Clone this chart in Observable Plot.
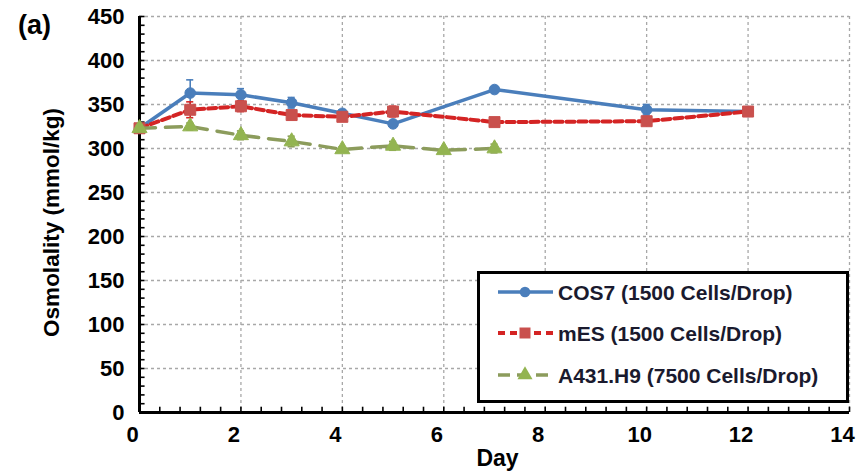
<!DOCTYPE html>
<html><head><meta charset="utf-8">
<script src="https://cdn.jsdelivr.net/npm/d3@7"></script>
<script src="https://cdn.jsdelivr.net/npm/@observablehq/plot@0.6"></script>
<style>
body{margin:0;background:#fff;font-family:"Liberation Sans",Arial,sans-serif;}
#wrap{position:relative;width:859px;height:475px;overflow:hidden;}
#legend{position:absolute;left:477px;top:271px;}
</style></head><body><div id="wrap"></div>
<script>
// ---- data ----
const days = [0, 1, 2, 3, 4, 5, 7, 10, 12];
const daysA431 = [0, 1, 2, 3, 4, 5, 6, 7];
const cos7 = [323, 363, 361, 352, 340, 328, 367, 344, 342];
const cos7Err = [0, 15, 7, 6, 4, 3, 3, 6, 3];
const mes = [323, 344, 348, 338, 336, 342, 330, 331, 342];
const mesErr = [0, 9, 6, 5, 4, 6, 3, 3, 4];
const a431 = [323, 325, 315, 308, 299, 303, 298, 300];
const a431Err = [3, 4, 5, 6, 3, 5, 2, 5];
const seriesNames = ["COS7 (1500 Cells/Drop)", "mES (1500 Cells/Drop)", "A431.H9 (7500 Cells/Drop)"];
const xTicks = [0, 2, 4, 6, 8, 10, 12, 14];
const yTicks = [0, 50, 100, 150, 200, 250, 300, 350, 400, 450];
const xMinor = d3.range(0, 14.01, 0.4);
const yMinor = d3.range(0, 450.1, 10);

// ---- styles ----
const styles = [
  {line: "#4a7ebb", marker: "#4a7ebb", dash: null, width: 3.5, symbol: "circle", r: 5.3},
  {line: "#d42424", marker: "#c9504d", dash: "8,4", width: 4, symbol: "square", r: 6.2},
  {line: "#8c9c5c", marker: "#93b451", dash: "16,10", width: 3.5, symbol: "triangle", r: 5.6}
];

const rows = [];
days.forEach((d, i) => rows.push({s: 0, day: d, value: cos7[i], err: cos7Err[i]}));
days.forEach((d, i) => rows.push({s: 1, day: d, value: mes[i], err: mesErr[i]}));
daysA431.forEach((d, i) => rows.push({s: 2, day: d, value: a431[i], err: a431Err[i]}));

const font = "'Liberation Sans', Arial, sans-serif";
const marks = [
  Plot.gridY(yTicks.filter(v => v > 0), {stroke: "#a8a8a8", strokeOpacity: 1, strokeDasharray: "3,3", strokeWidth: 1.3}),
  Plot.gridX(xTicks.filter(v => v > 0), {stroke: "#a8a8a8", strokeOpacity: 1, strokeDasharray: "3,3", strokeWidth: 1.3}),
  Plot.ruleY(yMinor, {x1: 0, x2: 0.11, stroke: "black", strokeWidth: 1.6}),
  Plot.ruleX(xMinor, {y1: 0, y2: 6, stroke: "black", strokeWidth: 1.6}),
  Plot.ruleX([0], {stroke: "black", strokeWidth: 3}),
  Plot.ruleY([0], {stroke: "black", strokeWidth: 3})
];
styles.forEach((st, k) => {
  const data = rows.filter(r => r.s === k);
  marks.push(
    Plot.ruleX(data.filter(r => r.err > 0), {x: "day", y1: r => r.value - r.err, y2: r => r.value + r.err, stroke: st.line, strokeWidth: 1.6}),
    Plot.ruleY(data.filter(r => r.err > 0), {y: r => r.value + r.err, x1: r => r.day - 0.07, x2: r => r.day + 0.07, stroke: st.line, strokeWidth: 1.6}),
    Plot.ruleY(data.filter(r => r.err > 0), {y: r => r.value - r.err, x1: r => r.day - 0.07, x2: r => r.day + 0.07, stroke: st.line, strokeWidth: 1.6}),
    Plot.line(data, {x: "day", y: "value", stroke: st.line, strokeWidth: st.width, strokeDasharray: st.dash}),
    Plot.dot(data, {x: "day", y: "value", symbol: st.symbol, r: st.r, fill: st.marker, stroke: st.marker, strokeWidth: 1})
  );
});
marks.push(
  Plot.axisX({ticks: xTicks, tickSize: 0, tickPadding: 14, dx: -7, label: null, fontSize: 22, fontWeight: "bold"}),
  Plot.axisY({ticks: yTicks, tickSize: 0, tickPadding: 15, label: null, fontSize: 22, fontWeight: "bold"}),
  Plot.text(["(a)"], {frameAnchor: "top-left", dx: -105, dy: 9, textAnchor: "middle", lineAnchor: "middle", fontSize: 27, fontWeight: "bold", fill: "black"}),
  Plot.text(["Osmolality (mmol/kg)"], {frameAnchor: "left", rotate: -90, dx: -88, dy: 8, textAnchor: "middle", lineAnchor: "middle", fontSize: 22.5, fontWeight: "bold", fill: "black"}),
  Plot.text(["Day"], {frameAnchor: "bottom", dx: 3, dy: 46, textAnchor: "middle", lineAnchor: "middle", fontSize: 23, fontWeight: "bold", fill: "black"})
);

const chart = Plot.plot({
  width: 859,
  height: 475,
  marginLeft: 139,
  marginRight: 10,
  marginTop: 16,
  marginBottom: 63,
  x: {domain: [0, 14]},
  y: {domain: [0, 450]},
  style: {fontFamily: font, fontSize: "22px", fontWeight: "bold", color: "black", background: "white"},
  marks
});
document.getElementById("wrap").appendChild(chart);

// ---- legend ----
const lg = d3.select("#wrap").append("svg").attr("id", "legend")
  .attr("width", 373).attr("height", 133);
lg.append("rect").attr("x", 1.5).attr("y", 1.5).attr("width", 369).attr("height", 129)
  .attr("fill", "white").attr("stroke", "black").attr("stroke-width", 3);
const rowY = [21, 62, 104];
seriesNames.forEach((name, k) => {
  const st = styles[k];
  const g = lg.append("g").attr("transform", `translate(0,${rowY[k]})`);
  g.append("line").attr("x1", 21).attr("x2", 76).attr("y1", 0).attr("y2", 0)
    .attr("stroke", st.line).attr("stroke-width", st.width)
    .attr("stroke-dasharray", st.dash ? (k === 1 ? "7,5" : "12,7") : null);
  g.append("path").attr("transform", "translate(48,0)")
    .attr("d", d3.symbol(st.symbol === "circle" ? d3.symbolCircle : st.symbol === "square" ? d3.symbolSquare : d3.symbolTriangle, Math.PI * st.r * st.r)())
    .attr("fill", st.marker);
  g.append("text").attr("x", 81).attr("y", 0).attr("dy", "0.36em")
    .attr("font-family", font).attr("font-size", 21).attr("font-weight", "bold")
    .attr("fill", "#1a1a2e").text(name);
});
</script>
</body></html>
